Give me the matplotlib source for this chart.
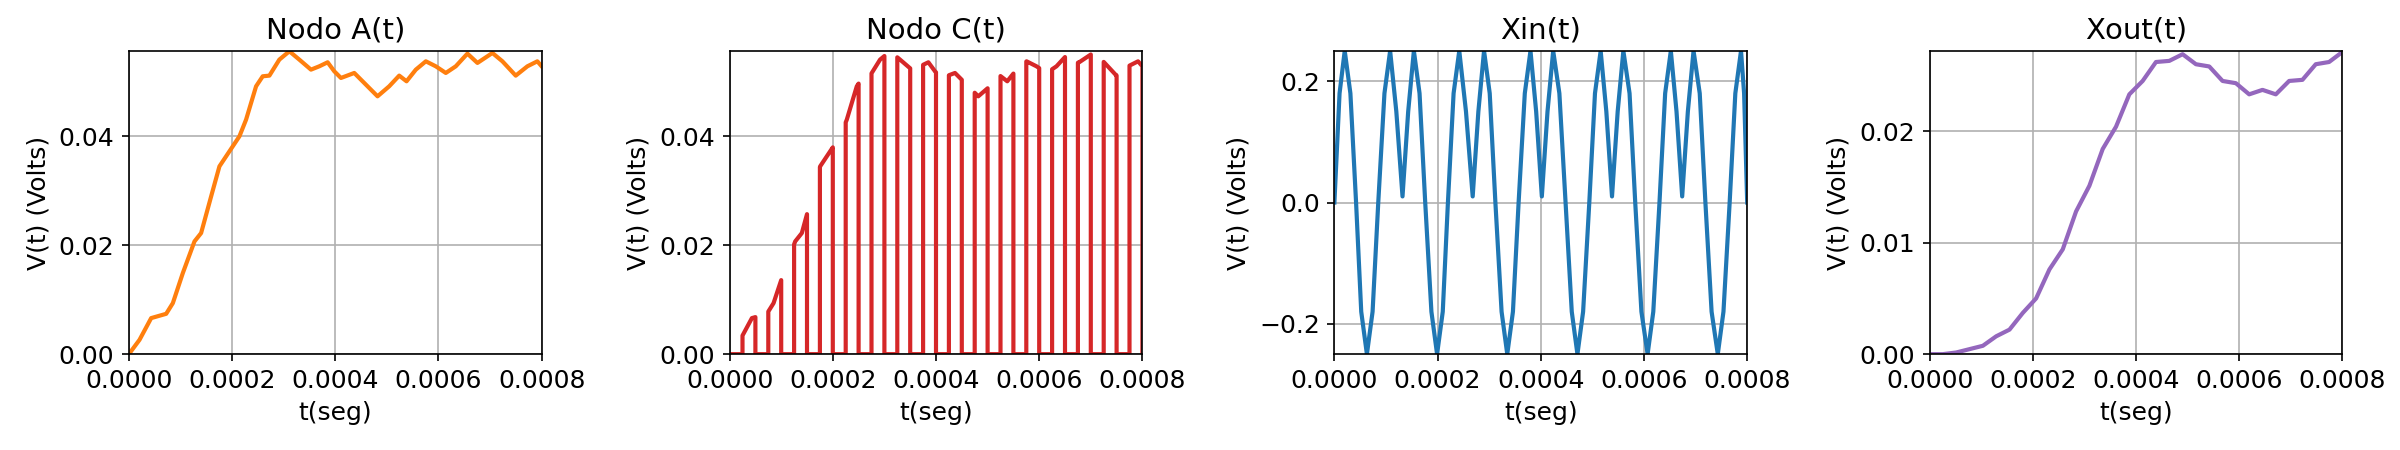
import numpy as np
import matplotlib
matplotlib.use("Agg")
import matplotlib.pyplot as plt

plt.rcParams["font.size"] = 12

# Nodo A(t)
t_a = [0, 0.0000206, 0.0000432, 0.0000723, 0.0000852, 0.0001045, 0.0001271, 0.0001400,
       0.0001594, 0.0001755, 0.0001948, 0.0002142, 0.0002271, 0.0002465, 0.0002594,
       0.0002723, 0.0002916, 0.0003110, 0.0003303, 0.0003529, 0.0003690, 0.0003852,
       0.0003981, 0.0004110, 0.0004368, 0.0004594, 0.0004819, 0.0005045, 0.0005239,
       0.0005381, 0.0005561, 0.0005755, 0.0005948, 0.0006142, 0.0006335, 0.0006561,
       0.0006755, 0.0007045, 0.0007239, 0.0007497, 0.0007723, 0.0007916, 0.0008]
v_a = [0, 0.00263, 0.00662, 0.00741, 0.00937, 0.01488, 0.02070, 0.02224, 0.02897,
       0.03449, 0.03724, 0.04, 0.04306, 0.04919, 0.05103, 0.05115, 0.05409, 0.05562,
       0.05409, 0.05225, 0.05286, 0.0536, 0.05194, 0.05072, 0.05164, 0.04949, 0.04735,
       0.04919, 0.05115, 0.05011, 0.05225, 0.05378, 0.05286, 0.05164, 0.05286, 0.05519,
       0.05348, 0.05531, 0.05378, 0.05115, 0.05286, 0.05378, 0.05286]

# Nodo C(t): switch closed during the second half of every 50 us period
period_c = 0.00005

# Xin(t) in units of 1e-5 s
t_in = [0, 1.0, 2.0, 3.1, 4.2, 5.2, 6.3, 7.4, 8.5, 9.7, 10.8, 12.0, 13.2, 14.3, 15.4,
        16.5, 17.6, 18.8, 19.9, 21.0, 22.0, 23.1, 24.2, 25.5, 26.8, 27.9, 29.0, 30.1,
        31.2, 32.4, 33.5, 34.6, 35.7, 36.9, 38.0, 39.1, 40.2, 41.3, 42.4, 43.6, 44.8,
        46.0, 47.1, 48.2, 49.4, 50.5, 51.6, 52.7, 53.8, 54.9, 56.0, 57.2, 58.3, 59.5,
        60.7, 61.8, 63.0, 64.1, 65.2, 66.3, 67.4, 68.5, 69.6, 70.8, 71.9, 73.1, 74.3,
        75.4, 76.6, 77.7, 78.8, 79.4, 80.0]
v_in = [0, 0.18, 0.25, 0.18, 0, -0.18, -0.25, -0.18, 0, 0.18, 0.25, 0.15, 0.01, 0.15, 0.25,
        0.18, 0, -0.18, -0.25, -0.18, 0, 0.18, 0.25, 0.15, 0.01, 0.15, 0.25, 0.18,
        0, -0.18, -0.25, -0.18, 0, 0.18, 0.25, 0.15, 0.01, 0.15, 0.25, 0.18, 0,
        -0.18, -0.25, -0.18, 0, 0.18, 0.25, 0.15, 0.01, 0.15, 0.25, 0.18, 0, -0.18,
        -0.25, -0.18, 0, 0.18, 0.25, 0.15, 0.01, 0.15, 0.25, 0.18, 0, -0.18, -0.25,
        -0.18, 0, 0.18, 0.25, 0.18, 0.0]

# Xout(t)
v_out = [0, 0, 0.00015, 0.00045, 0.00075, 0.0016, 0.0022, 0.0037, 0.0050, 0.0076, 0.0094,
         0.0128, 0.0151, 0.0184, 0.0204, 0.0233, 0.0245, 0.0262, 0.0263, 0.0269, 0.0260,
         0.0258, 0.0245, 0.0243, 0.0233, 0.0237, 0.0233, 0.0245, 0.0246, 0.0260, 0.0262,
         0.0271]
t_out = np.linspace(0, 0.0008, len(v_out))

# build Nodo C from Nodo A samples inside each closed window
t_c, v_c = [0], [0]
for k in range(16):
    a = k * period_c + period_c / 2
    b = (k + 1) * period_c
    inside = [t for t in t_a if a < t < b]
    ts = [a] + inside + [b]
    vs = list(np.interp(ts, t_a, v_a))
    t_c += [a] + ts + [b]
    v_c += [0] + vs + [0]

fig = plt.figure(figsize=(16, 3), dpi=150)
lefts = [0.0537, 0.304, 0.556, 0.804]
axs = [fig.add_axes([l, 0.213, 0.172, 0.674]) for l in lefts]

axs[0].plot(t_a, v_a, color="tab:orange", lw=2)
axs[0].set_title("Nodo A(t)", fontsize=14)
axs[0].set_ylim(0, 0.0557)
axs[0].set_yticks([0, 0.02, 0.04])

axs[1].plot(t_c, v_c, color="tab:red", lw=2)
axs[1].set_title("Nodo C(t)", fontsize=14)
axs[1].set_ylim(0, 0.0557)
axs[1].set_yticks([0, 0.02, 0.04])

axs[2].plot(np.array(t_in) * 1e-5, v_in, color="tab:blue", lw=2)
axs[2].set_title("Xin(t)", fontsize=14)
axs[2].set_ylim(-0.25, 0.25)
axs[2].set_yticks([-0.2, 0, 0.2])

axs[3].plot(t_out, v_out, color="tab:purple", lw=2)
axs[3].set_title("Xout(t)", fontsize=14)
axs[3].set_ylim(0, 0.0272)
axs[3].set_yticks([0, 0.01, 0.02])

for ax in axs:
    ax.set_xlim(0, 0.0008)
    ax.set_xticks([0, 0.0002, 0.0004, 0.0006, 0.0008])
    ax.set_xticklabels(["0.0000", "0.0002", "0.0004", "0.0006", "0.0008"])
    ax.set_xlabel("t(seg)")
    ax.set_ylabel("V(t) (Volts)")
    ax.grid(True)

fig.savefig("out.png", dpi=150)
